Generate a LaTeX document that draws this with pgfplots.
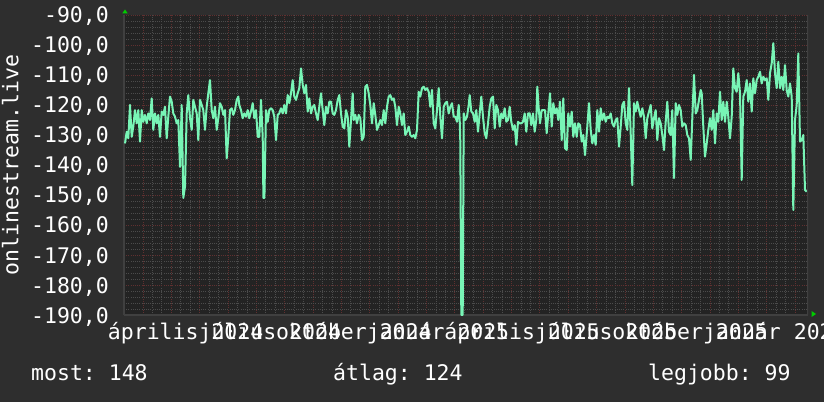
\documentclass[border=0pt]{standalone}
\usepackage{fontspec}
\setmainfont{DejaVu Sans Mono}
\usepackage{pgfplots}
\pgfplotsset{compat=1.18}

\definecolor{canvas}{RGB}{46,46,46}
\definecolor{plotbg}{RGB}{35,35,35}
\definecolor{minorgrid}{RGB}{76,76,76}
\definecolor{majorgrid}{RGB}{96,48,48}
\definecolor{axisgray}{RGB}{64,64,64}
\definecolor{series}{RGB}{120,245,182}
\definecolor{arrowgreen}{RGB}{0,205,0}

\newcommand{\rrdfont}{\fontsize{21.5}{25}\selectfont}

\begin{document}
\frenchspacing
\begin{tikzpicture}
\fill[canvas] (0pt,0pt) rectangle (824pt,402pt);
\useasboundingbox (0pt,0pt) rectangle (824pt,402pt);
\begin{axis}[
    at={(124pt,87pt)}, anchor=south west,
    width=684pt, height=300pt, scale only axis,
    xmin=124, xmax=808, ymin=-190, ymax=-90,
    axis background/.style={fill=plotbg},
    axis lines*=left,
    axis line style={draw=axisgray, line width=2pt},
    % monthly major grid (red), minor grid (grey)
    xtick={143,171.35,...,800},
    xticklabels={},
    minor x tick num=2,
    ytick={-190,-180,...,-90},
    minor y tick num=4,
    grid=both,
    major grid style={majorgrid, line width=0.9pt, dash pattern=on 1pt off 1.2pt},
    minor grid style={minorgrid, line width=0.9pt, dash pattern=on 1pt off 1.2pt},
    major tick length=0pt, minor tick length=0pt,
    tick label style={font=\rrdfont, text=white, inner sep=0pt},
    yticklabel style={anchor=base east, xshift=-15pt, yshift=-8pt,
        /pgf/number format/.cd, fixed, fixed zerofill, precision=1,
        use comma, assume math mode=true},
    extra x ticks={185.6,269.8,353.9,438,522,606,690,774.4},
    extra x tick labels={április 2024,július 2024,október 2024,január 2025,
        április 2025,július 2025,október 2025,január 2026},
    extra x tick style={grid=none, major tick length=0pt,
        xticklabel style={anchor=base, yshift=-24pt}},
    clip=true,
]
\addplot[series, line width=2pt, line join=round] coordinates {
(125,-132.8)(126.7,-128.9)(128.3,-131.1)(130,-120)(131.7,-130.6)(133.3,-127.2)
(135,-121.7)(136.7,-126.1)(138.3,-121.7)(140,-132.2)(141.7,-121.7)(143.3,-125.6)
(145,-123.3)(146.7,-126.1)(148.3,-122.8)(150,-125)(151.7,-117.8)(153.3,-128.3)
(155,-122.8)(156.7,-126.1)(158.3,-123.3)(160,-130.6)(161.7,-122.2)(163.3,-123.3)
(165,-120.6)(166.7,-131.1)(168.3,-123.9)(170,-117.2)(171.7,-118.9)(173.3,-122.8)
(175,-123.9)(176.7,-126.1)(178.3,-125)(180,-140.6)(181.7,-120)(183.3,-151)
(185,-147.2)(186.7,-122.8)(188.3,-116.7)(190,-124.4)(191.7,-128.3)(193.3,-118.3)
(195,-120.6)(196.7,-122.8)(198.3,-131.7)(200,-118.3)(201.7,-120)(203.3,-121.7)
(205,-128.3)(206.7,-120.6)(208.3,-116.1)(210,-111.7)(211.7,-121.7)(213.3,-124.4)
(215,-120.6)(216.7,-128.3)(218.3,-124.4)(220,-119.4)(221.7,-120.6)(223.3,-123.3)
(225,-121.7)(226.7,-137.8)(228.3,-130.6)(230,-121.7)(231.7,-121.1)(233.3,-123.3)
(235,-121.7)(236.7,-118.3)(238.3,-117.2)
(239.3,-120)(241,-121.7)(242.7,-124.4)(244.3,-122.8)(246,-123.9)(247.7,-121.7)
(249.3,-124.4)(251,-122.2)(252.7,-119.4)(254.3,-124.4)(256,-121.7)(257.7,-130.6)
(259.3,-130.6)(261,-118.3)(262.7,-130.6)(263.4,-151)(264.4,-151)(266,-121.7)
(267.7,-125.6)(269.3,-121.7)(271,-121.1)(272.7,-121.7)(274.3,-123.9)(276,-131.7)
(277.7,-123.3)(279.3,-122.8)(281,-121.1)(282.7,-122.8)(284.3,-120)(286,-122.8)
(287.7,-116.7)(289.3,-119.4)(291,-116.1)(292.7,-111.7)(294.3,-117.2)(296,-118.3)
(297.7,-116.1)(299.3,-114.4)(301,-107.8)(302.7,-113.3)(304.3,-116.1)(306,-113.3)
(307.7,-122.2)(309.3,-117.8)(311,-122.8)(312.7,-120.6)(314.3,-120)(316,-122.8)
(317.7,-125)(319.3,-120.6)(321,-116.1)(322.7,-121.7)(324.3,-126.7)(326,-120.6)
(327.7,-122.8)(329.3,-118.9)(331,-118.9)(332.7,-122.8)(334.3,-123.3)(336,-121.7)
(337.7,-118.3)(339.3,-116.7)(341,-122.8)(342.7,-127.2)(344.3,-127.8)(346,-121.7)
(347.7,-123.9)(349.3,-133.9)(351,-125)(352.7,-116.1)
(353.7,-125)(355.3,-123.3)(357,-126.1)(358.7,-123.3)(360.3,-124.4)(362,-131.7)
(363.7,-130.6)(365.3,-113.9)(367,-113.3)(368.7,-116.1)(370.3,-120)(372,-126.1)
(373.7,-119.4)(375.3,-123.3)(377,-128.3)(378.7,-126.7)(380.3,-125)(382,-126.7)
(383.7,-121.7)(385.3,-126.1)(387,-120.6)(388.7,-117.2)(390.3,-116.7)(392,-118.3)
(393.7,-117.8)(395.3,-120.6)(397,-126.7)(398.7,-120.6)(400.3,-122.8)(402,-126.7)
(403.7,-122.8)(405.3,-130)(407,-128.9)(408.7,-127.2)(410.3,-130)(412,-130.6)
(413.7,-130)(415.3,-131.1)(417,-128.3)(418.7,-115.6)(420.3,-117.2)(422,-114.4)
(423.7,-113.9)(425.3,-115)(427,-114.4)(428.7,-115.6)(430.3,-120.6)(432,-115)
(433.7,-126.1)(435.3,-127.8)(437,-121.7)(438.7,-114.4)(440.3,-123.9)(442,-131.1)
(443.7,-120.6)(445.3,-119.4)(447,-118.9)(448.7,-122.8)(450.3,-120.6)(452,-119.4)
(453.7,-123.9)(455.3,-123.9)(457,-125.6)(458.7,-120)(459.7,-125)(460.3,-132.2)
(461.3,-190)(462.7,-190)(463.7,-122.8)(465.3,-125)(467,-123.9)(468.7,-120)
(469.7,-116.7)(471.3,-122.2)(473,-122.8)(474.7,-125.6)(476.3,-121.7)(478,-128.9)
(479.7,-122.8)(481.3,-117.2)(483,-123.9)(484.7,-129.4)(486.3,-131.1)(488,-126.1)
(489.7,-120.6)(491.3,-117.8)(493,-117.2)(494.7,-127.8)(496.3,-120)(498,-121.7)
(499.7,-127.2)(501.3,-122.8)(503,-124.4)(504.7,-121.1)(506.3,-125.6)(508,-125)
(509.7,-120.6)(511.3,-125.6)(513,-128.3)(514.7,-126.7)(516.3,-133.3)(518,-125.6)
(519.7,-126.1)(521.3,-126.1)(523,-125.6)(524.7,-122.8)(526.3,-128.9)(528,-122.8)
(529.7,-122.8)(531.3,-126.7)(533,-122.8)(534.7,-128.9)(536.3,-125)(537.3,-113.9)
(538.7,-121.1)(540,-126.1)(541.7,-121.7)(543.3,-121.7)(545,-121.7)(546.7,-129.4)
(548.3,-122.8)(550,-116.1)(551.7,-127.2)(553.3,-119.4)(555,-122.8)(556.7,-121.1)
(558.3,-125)(560,-118.9)(561.7,-131.7)(563.3,-117.8)(565,-134.4)(566.7,-135)
(568.3,-122.8)(570,-127.2)(571.7,-122.2)(573.3,-130.6)(575,-126.1)(576.7,-130.6)
(578.3,-126.1)(580,-126.7)(581.7,-132.2)(583.3,-130)(585,-136.7)
(587.3,-127.2)(589,-119.4)(590.7,-128.3)(592.3,-132.8)(594,-130)(595.7,-133.3)
(597.3,-121.7)(599,-128.9)(600.7,-121.1)(602.3,-125)(604,-122.8)(605.7,-125.6)
(607.3,-123.9)(609,-124.4)(610.7,-122.8)(612.3,-126.1)(614,-127.2)(615.7,-125)
(617.3,-124.4)(619,-133.9)(620.7,-127.2)(622.3,-120)(624,-118.9)(625.7,-126.1)
(627.3,-128.3)(629,-114.4)(630.7,-129.4)(632.3,-146.7)(634,-119.4)(635.7,-122.2)
(637.3,-118.9)(639,-121.7)(640.7,-123.9)(642.3,-121.1)(644,-123.9)(645.7,-131.1)
(647.3,-124.4)(649,-122.2)(650.7,-120)(652.3,-127.8)(654,-124.4)(655.7,-121.7)
(657.3,-131.7)(659,-124.4)(660.7,-126.1)(662.3,-130)(664,-135)(665.7,-125.6)
(667.3,-118.9)(669,-128.9)(670.7,-130)(672.3,-121.7)(674,-144.4)(675.7,-119.4)
(677.3,-123.3)(679,-120)(680.7,-121.7)(682.3,-127.2)(684,-126.1)(685.7,-126.7)
(687.3,-130)(689,-131.1)(690.7,-138.3)(692.3,-124.4)(694,-110)(695.7,-122.8)
(697.3,-121.7)(699,-118.3)(700.7,-115)
(701.7,-116.1)(703.3,-127.2)(705,-137.2)(706.7,-132.8)(708.3,-128.3)(710,-124.4)
(711.7,-128.3)(713.3,-121.7)(715,-132.8)(716.7,-122.8)(718.3,-125.6)(720,-115.6)
(721.7,-125)(723.3,-118.9)(725,-125.6)(726.7,-118.9)(728.3,-123.9)(730,-131.1)
(731.7,-123.9)(733.3,-107.8)(735,-114.4)(736.7,-115.6)(738.3,-109.4)(740,-116.1)
(741.7,-145)(743.3,-117.2)(745,-115.6)(746.7,-111.7)(748.3,-118.9)(750,-112.8)
(751.7,-122.2)(753.3,-111.1)(755,-116.1)(756.7,-111.7)(758.3,-110.6)(760,-108.9)
(761.7,-112.8)(763.3,-110.6)(765,-111.7)(766.7,-111.1)(768.3,-118.3)(770,-109.4)
(771.7,-106.1)(773.3,-99.4)(775,-109.4)(776.7,-114.4)(778.3,-105.6)(780,-114.4)
(781.7,-110.6)(783.3,-115)(785,-106.7)(786.7,-115)(788.3,-117.2)(790,-112.8)
(791.7,-117.2)(793.3,-155)(795,-125)(796.7,-120)(798.3,-102.8)(800,-132.2)
(801.7,-131.7)(803.3,-130)(805,-148.3)(806.7,-148.9)
};
\draw[axisgray, line width=2pt] (rel axis cs:1,0) -- (rel axis cs:1,1);
\end{axis}
% axis arrows
\fill[arrowgreen] (122.3pt,388.7pt) -- (127.7pt,388.7pt) -- (125pt,392.5pt) -- cycle;
\fill[arrowgreen] (811.5pt,85pt) -- (811.5pt,91pt) -- (816pt,88pt) -- cycle;
% unit label
\node[rotate=90, anchor=base, inner sep=0pt, text=white, font=\rrdfont]
    at (18.3pt,237pt) {onlinestream.live};
% legend line
\node[anchor=base west, inner sep=0pt, text=white, font=\rrdfont] at (31pt,22pt) {most: 148};
\node[anchor=base west, inner sep=0pt, text=white, font=\rrdfont] at (333pt,22pt) {átlag: 124};
\node[anchor=base west, inner sep=0pt, text=white, font=\rrdfont] at (648pt,22pt) {legjobb: 99};
\end{tikzpicture}
\end{document}
